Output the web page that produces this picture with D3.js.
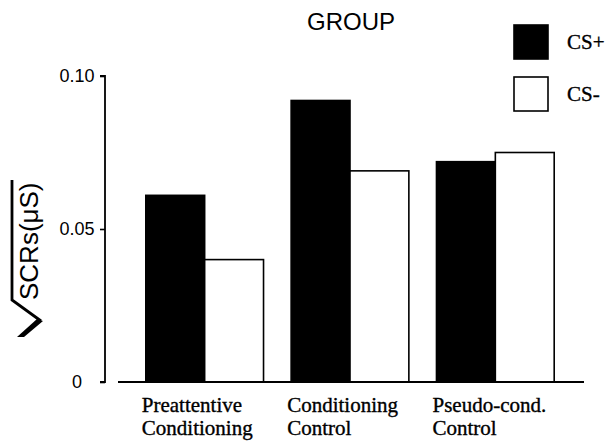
<!DOCTYPE html>
<html>
<head>
<meta charset="utf-8">
<script src="https://cdn.jsdelivr.net/npm/d3@7"></script>
<style>
  html, body { margin: 0; padding: 0; background: #fff; }
  svg { display: block; }
</style>
</head>
<body>
<svg id="chart" width="614" height="446"></svg>
<script>
// Groups (two-line category labels)
const groups = ["preatt", "cond", "pseudo"];
const groupLabels = [
  ["Preattentive", "Conditioning"],
  ["Conditioning", "Control"],
  ["Pseudo-cond.", "Control"]
];
// Series values: square-root SCR amplitude (µS)
const seriesNames = ["CS+", "CS-"];
const csPlus  = [0.061, 0.092, 0.072];
const csMinus = [0.040, 0.069, 0.075];
const seriesFill = ["#000", "#fff"];
// Y tick values and labels
const yTicks = [0, 0.05, 0.10];
const yTickLabels = ["0", "0.05", "0.10"];

const svg = d3.select("#chart");
const sans = "'Liberation Sans', Arial, Helvetica, sans-serif";
const serif = "'Liberation Serif', 'Times New Roman', Times, serif";

const y = d3.scaleLinear().domain([0, 0.10]).range([382, 76]);
const x = d3.scaleBand().domain(groups).range([132, 568])
  .paddingInner(0.19).paddingOuter(0.095);
const xs = d3.scaleBand().domain(seriesNames).range([0, x.bandwidth()]);

const values = [csPlus, csMinus];

// Bars
const bars = svg.append("g");
seriesNames.forEach((s, si) => {
  bars.selectAll(null)
    .data(groups)
    .enter().append("rect")
    .attr("x", (g) => x(g) + xs(s))
    .attr("width", xs.bandwidth())
    .attr("y", (g, i) => y(values[si][i]))
    .attr("height", (g, i) => y(0) - y(values[si][i]))
    .attr("fill", seriesFill[si])
    .attr("stroke", "#000")
    .attr("stroke-width", 1.6);
});

// Y axis
const yAxisX = 105;
const yAxis = d3.axisLeft(y)
  .tickValues(yTicks)
  .tickSize(5)
  .tickFormat((d, i) => yTickLabels[i]);
const gy = svg.append("g")
  .attr("transform", `translate(${yAxisX},0)`)
  .call(yAxis);
gy.select(".domain").attr("stroke-width", 1.8)
  .attr("d", `M-5,${y(0.10)}H0V${y(0)}H-5`);
gy.selectAll(".tick line").attr("stroke-width", 1.6);
gy.selectAll(".tick text")
  .attr("x", 77 - yAxisX)
  .attr("text-anchor", "middle")
  .attr("font-family", sans)
  .attr("font-size", 18)
  .attr("fill", "#000");

// X axis baseline
svg.append("line")
  .attr("x1", 118).attr("x2", 584)
  .attr("y1", y(0)).attr("y2", y(0))
  .attr("stroke", "#000").attr("stroke-width", 2);

// Category labels
const xl = svg.append("g")
  .attr("font-family", serif)
  .attr("font-size", 21)
  .attr("fill", "#000")
  .attr("stroke", "#000")
  .attr("stroke-width", 0.35);
groups.forEach((g, i) => {
  groupLabels[i].forEach((line, li) => {
    xl.append("text")
      .attr("x", x(g) - 4)
      .attr("y", 412 + li * 23)
      .text(line);
  });
});

// Title
svg.append("text")
  .attr("x", 351).attr("y", 30)
  .attr("text-anchor", "middle")
  .attr("font-family", sans)
  .attr("font-size", 24)
  .text("GROUP");

// Legend
const legend = svg.append("g");
seriesNames.forEach((s, i) => {
  const top = 25 + i * 52;
  legend.append("rect")
    .attr("x", 514).attr("y", top)
    .attr("width", 34).attr("height", 34)
    .attr("fill", seriesFill[i])
    .attr("stroke", "#000").attr("stroke-width", 1.6);
  legend.append("text")
    .attr("x", 567).attr("y", top + 17)
    .attr("dy", "0.35em")
    .attr("font-family", serif)
    .attr("font-size", 21)
    .attr("stroke", "#000")
    .attr("stroke-width", 0.35)
    .text(s);
});

// Y axis title: square-root sign with vinculum, then rotated text
const yt = svg.append("g");
yt.append("text")
  .attr("transform", "translate(38,300) rotate(-90)")
  .attr("font-family", sans)
  .attr("font-size", 26)
  .text("SCRs(\u03BCS)");
// radical: heavy short stroke, lighter long stroke up to the vinculum
yt.append("path")
  .attr("d", "M17,337 L24,337 L43,321 L37,319 Z")
  .attr("fill", "#000");
yt.append("path")
  .attr("d", "M41,321 L12,300 L12,180")
  .attr("stroke", "#000").attr("stroke-width", 2.8).attr("fill", "none")
  .attr("stroke-linejoin", "miter");
</script>
</body>
</html>
